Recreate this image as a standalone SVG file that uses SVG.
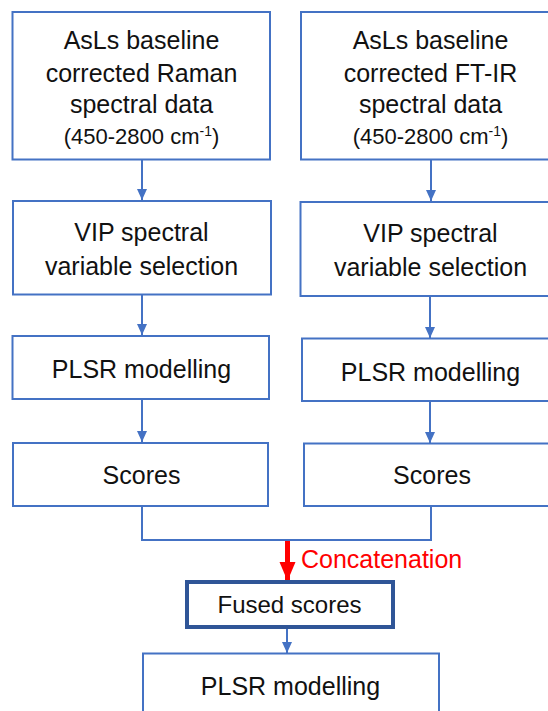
<svg xmlns="http://www.w3.org/2000/svg" width="548" height="711" viewBox="0 0 548 711">
  <defs>
    <style>
      .box { fill: #ffffff; stroke: #4472C4; stroke-width: 2; }
      .fused { fill: #ffffff; stroke: #2F5597; stroke-width: 4; }
      .lbl { font-family: "Liberation Sans", Arial, sans-serif; font-size: 25px; fill: #111111; text-anchor: middle; }
      .rng { font-size: 22px; }
      .sup { font-size: 14px; }
      .conn { fill: none; stroke: #4472C4; stroke-width: 2; }
      .red { fill: none; stroke: #FF0000; stroke-width: 5; }
      .redlbl { font-family: "Liberation Sans", Arial, sans-serif; font-size: 25px; fill: #FF0000; }
    </style>
    <marker id="ah" markerUnits="userSpaceOnUse" markerWidth="12" markerHeight="12" viewBox="0 0 12 12" refX="11" refY="6" orient="auto">
      <path d="M0,1 L11,6 L0,11 Z" fill="#4472C4"/>
    </marker>
    <marker id="ahr" markerUnits="userSpaceOnUse" markerWidth="20" markerHeight="18" viewBox="0 0 20 18" refX="19" refY="9" orient="auto">
      <path d="M0,1 L19,9 L0,17 Z" fill="#FF0000"/>
    </marker>
  </defs>
  <rect width="548" height="711" fill="#ffffff"/>

  <g id="connectors">
    <line class="conn" x1="142" y1="160" x2="142" y2="200" marker-end="url(#ah)"/>
    <line class="conn" x1="431" y1="160" x2="431" y2="201" marker-end="url(#ah)"/>
    <line class="conn" x1="142" y1="295" x2="142" y2="335" marker-end="url(#ah)"/>
    <line class="conn" x1="430" y1="296" x2="430" y2="338" marker-end="url(#ah)"/>
    <line class="conn" x1="142" y1="399" x2="142" y2="442" marker-end="url(#ah)"/>
    <line class="conn" x1="430" y1="401" x2="430" y2="443" marker-end="url(#ah)"/>
    <polyline class="conn" points="142,507 142,540 431,540 431,507"/>
    <line class="red" x1="287.5" y1="541" x2="287.5" y2="581" marker-end="url(#ahr)"/>
    <line class="conn" x1="287" y1="629" x2="287" y2="653" marker-end="url(#ah)"/>
  </g>

  <g id="raman-data">
    <rect class="box" x="12.5" y="12" width="257.5" height="147.5"/>
    <text class="lbl" x="141.5" y="49">AsLs baseline</text>
    <text class="lbl" x="141.5" y="81.5">corrected Raman</text>
    <text class="lbl" x="141.5" y="112.5">spectral data</text>
    <text class="lbl rng" x="141.5" y="144">(450-2800 cm<tspan class="sup" dy="-8">-1</tspan><tspan dy="8">)</tspan></text>
  </g>

  <g id="ftir-data">
    <rect class="box" x="301" y="12" width="260" height="147.5"/>
    <text class="lbl" x="430.5" y="49">AsLs baseline</text>
    <text class="lbl" x="430.5" y="81.5">corrected FT-IR</text>
    <text class="lbl" x="430.5" y="112.5">spectral data</text>
    <text class="lbl rng" x="430.5" y="144">(450-2800 cm<tspan class="sup" dy="-8">-1</tspan><tspan dy="8">)</tspan></text>
  </g>

  <g id="raman-vip">
    <rect class="box" x="13" y="201" width="258" height="93.5"/>
    <text class="lbl" x="141.5" y="241">VIP spectral</text>
    <text class="lbl" x="141.5" y="274.5">variable selection</text>
  </g>

  <g id="ftir-vip">
    <rect class="box" x="300.5" y="202" width="260" height="94"/>
    <text class="lbl" x="430.5" y="242">VIP spectral</text>
    <text class="lbl" x="430.5" y="275.5">variable selection</text>
  </g>

  <g id="raman-plsr">
    <rect class="box" x="12.5" y="336" width="256.5" height="63"/>
    <text class="lbl" x="141.5" y="378">PLSR modelling</text>
  </g>

  <g id="ftir-plsr">
    <rect class="box" x="302" y="338.5" width="260" height="62.5"/>
    <text class="lbl" x="430.5" y="380.5">PLSR modelling</text>
  </g>

  <g id="raman-scores">
    <rect class="box" x="13" y="443" width="255" height="63"/>
    <text class="lbl" x="141.5" y="483.5">Scores</text>
  </g>

  <g id="ftir-scores">
    <rect class="box" x="304" y="443.5" width="258" height="62.5"/>
    <text class="lbl" x="432" y="483.5">Scores</text>
  </g>

  <g id="concatenation-label">
    <text class="redlbl" x="301" y="568">Concatenation</text>
  </g>

  <g id="fused-scores">
    <rect class="fused" x="187" y="582" width="206" height="45"/>
    <text class="lbl" x="289.5" y="612.5" style="font-size:24px">Fused scores</text>
  </g>

  <g id="final-plsr">
    <rect class="box" x="143" y="653.5" width="296" height="70"/>
    <text class="lbl" x="290.5" y="695">PLSR modelling</text>
  </g>
</svg>
